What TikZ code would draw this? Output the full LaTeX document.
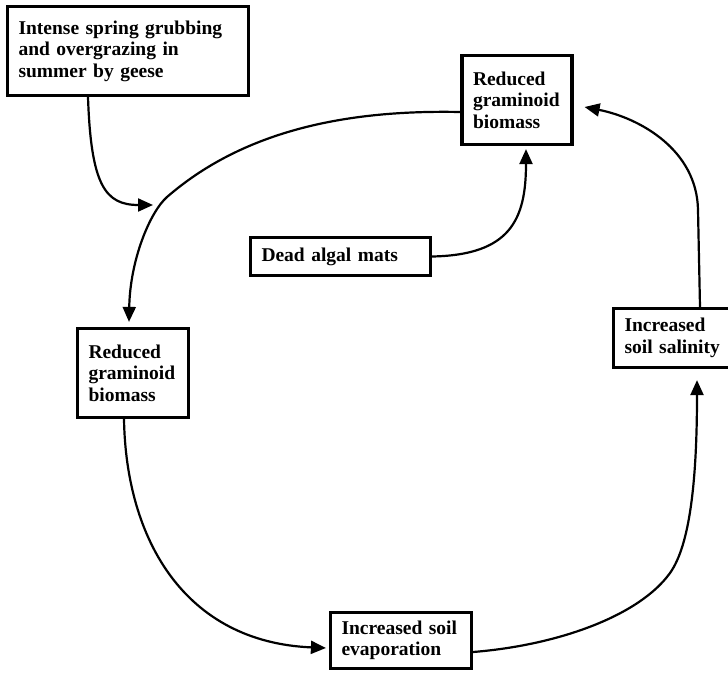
\documentclass[tikz,border=0pt]{standalone}
\usepackage{fontspec}
\setmainfont{Liberation Serif}
\usetikzlibrary{arrows.meta}
\hyphenpenalty=10000

\begin{document}
\begin{tikzpicture}[x=1pt, y=-1pt,
    box/.style={draw, line width=3.2pt, align=left, inner xsep=11pt, inner ysep=3pt,
      font=\fontsize{19.5}{21.5}\selectfont\bfseries},
    link/.style={line width=2.2pt, -{Triangle[length=15pt, width=13pt]}}]

  \useasboundingbox (0,0) rectangle (728,672);

  % Boxes
  \node[box, text width=219pt, minimum height=89pt] (geese) at (128,51)
    {Intense spring grubbing\\and overgrazing in\\summer by geese};
  \node[box, text width=88pt, minimum height=89pt] (redtop) at (517,100)
    {Reduced\\graminoid\\biomass};
  \node[box, text width=89pt, minimum height=89pt] (redleft) at (133,373)
    {Reduced\\graminoid\\biomass};
  \node[box, text width=158pt, minimum height=38pt] (algae) at (340.5,256.5)
    {Dead algal mats};
  \node[box, text width=119pt, minimum height=56pt] (evap) at (401,640.5)
    {Increased soil\\evaporation};
  \node[box, text width=98pt, minimum height=59pt] (salt) at (673.5,338)
    {Increased\\soil salinity};

  % Grazing pressure arrow
  \coordinate (hit) at (153,205);
  \draw[link] ([xshift=-40pt]geese.south) .. controls (91,185) and (105,205) .. (hit);

  % The loop
  \draw[link] ([yshift=-12pt]redtop.west) .. controls (360,110) and (250,125) .. (167,197)
    .. controls (150,212) and (130,260) .. ([xshift=-4pt,yshift=5pt]redleft.north);
  \draw[link] ([xshift=-9pt]redleft.south) .. controls (126,540) and (185,642)
    .. ([xshift=-3pt,yshift=-7.5pt]evap.west);
  \draw[link] ([yshift=-11.5pt]evap.east) .. controls (560,645) and (640,615) .. (670,573)
    .. controls (690,545) and (697,480) .. ([xshift=23.5pt,yshift=-11pt]salt.south);
  \draw[link] ([xshift=26.5pt]salt.north) -- (698,210)
    .. controls (697,150) and (640,118) .. ([xshift=11pt,yshift=-7pt]redtop.east);

  % Algal mats
  \draw[link] (algae.east) .. controls (510,255) and (526,220) .. ([xshift=9pt,yshift=-3pt]redtop.south);

\end{tikzpicture}
\end{document}
